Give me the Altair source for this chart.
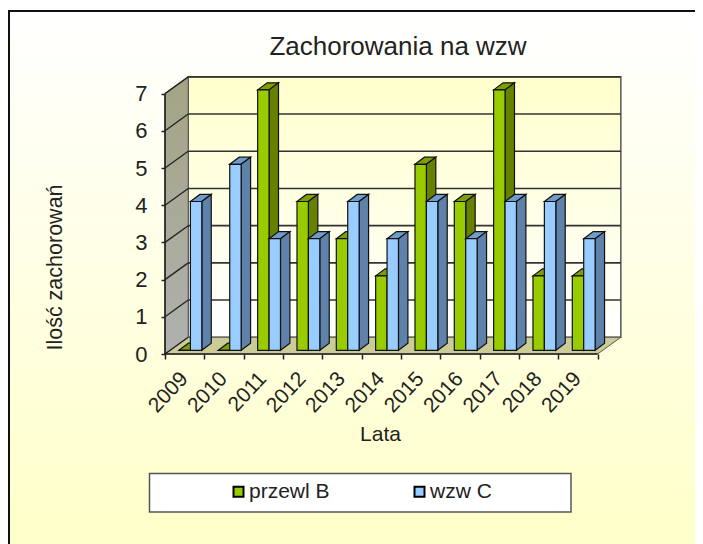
import altair as alt
import pandas as pd

years = ["2009","2010","2011","2012","2013","2014","2015","2016","2017","2018","2019"]
przewl_b = [0,0,7,4,3,2,5,4,7,2,2]
wzw_c = [4,5,3,3,4,3,4,3,4,4,3]
series_names = ["przewl B", "wzw C"]
series_colors = ["#99CC00", "#99CCFF"]

UX, UY = 39.33, 37.2
W, H = 456, 278
DX, DY = 0.59, 0.45          # wall depth, in axis units
BDX, BDY = 0.24, 0.19        # bar depth
BX, BY = 0.356, 0.10         # bar start inside the category / above the floor
BW = 0.29
N = len(years)
FONT = "Liberation Sans"

xs = alt.Scale(domain=[0, W/UX], nice=False, zero=False)
ys = alt.Scale(domain=[0, H/UY], nice=False, zero=False)

label_expr = "(" + str(years) + ")[datum.value] || ''"
axis_x = alt.Axis(values=list(range(N+1)), labelExpr=label_expr, labelAngle=-47, labelAlign="right",
                  labelBaseline="middle", labelOffset=19, labelPadding=16, labelFont=FONT, labelFontSize=21,
                  labelColor="#222222", tickColor="#222222", tickSize=5, tickWidth=1.5, domain=False, grid=False,
                  labelOverlap=False, labelBound=False, labelFlush=False, zindex=1, title="Lata",
                  titleFont=FONT, titleFontSize=21, titleFontWeight="normal", titleColor="#222222",
                  titleX=380-165, titleY=417-354+6)
axis_y = alt.Axis(values=list(range(8)), format="d", labelFont=FONT, labelFontSize=22, labelColor="#222222",
                  tickColor="#222222", tickSize=4, tickWidth=1.5, labelPadding=14, domain=False, grid=False,
                  zindex=1, title="Ilość zachorowań", titleFont=FONT, titleFontSize=21.5,
                  titleFontWeight="normal", titleColor="#222222", titleAngle=-90,
                  titleX=66-165, titleY=267-76)
XQ = alt.X("x:Q", scale=xs, axis=axis_x)
YQ = alt.Y("y:Q", scale=ys, axis=axis_y, stack=None)

bars, tops, sides = [], [], []
for s, vals in enumerate([przewl_b, wzw_c]):
    for i, v in enumerate(vals):
        x0 = i + BX + s*BW
        x1 = x0 + BW
        t = v + BY
        bars.append(dict(series=series_names[s], s=s, x=x0, x2=x1, y=t, y2=BY))
        k = f"{s}-{i}"
        for px, a, b in [(x0, t, t), (x0+BDX, t+BDY, t), (x1, t+BDY, t), (x1+BDX, t+BDY, t+BDY)]:
            tops.append(dict(id=k, s=s, x=px, y=a, y2=b))
        for px, a, b in [(x1, t, BY), (x1+BDX, t+BDY, BY+BDY)]:
            sides.append(dict(id=k, s=s, x=px, y=a, y2=b))
bars, tops, sides = pd.DataFrame(bars), pd.DataFrame(tops), pd.DataFrame(sides)

def grad(c0, c1):
    return alt.Gradient(gradient="linear", x1=0, x2=0, y1=0, y2=1,
                        stops=[alt.GradientStop(color=c0, offset=0), alt.GradientStop(color=c1, offset=1)])

one = pd.DataFrame({"a": [0]})
page = alt.Chart(one).mark_rect(
    fill=alt.Gradient(gradient="linear", x1=0, x2=0, y1=0, y2=1,
                      stops=[alt.GradientStop(color="#FFFFFF", offset=0),
                             alt.GradientStop(color="#FFFFCC", offset=0.92),
                             alt.GradientStop(color="#FFFFCC", offset=1)]),
    stroke="#111111", strokeWidth=2
).encode(x=alt.value(-156), x2=alt.value(560), y=alt.value(-65), y2=alt.value(480))

legend_box = alt.Chart(one).mark_rect(fill="white", stroke="#555555", strokeWidth=1.5).encode(
    x=alt.value(149.5-165), x2=alt.value(571-165), y=alt.value(473.5-76), y2=alt.value(512-76))

back = pd.DataFrame({"x": [DX, 11+DX], "y": [7+DY]*2, "y2": [DY]*2})
wall_back = alt.Chart(back).mark_area(fill=grad("#FFFFCC", "#FFFFFF"), stroke="#555555", strokeWidth=1.5).encode(
    x=XQ, y=YQ, y2="y2:Q")
left = pd.DataFrame({"x": [0, DX], "y": [7, 7+DY], "y2": [0, DY]})
wall_left = alt.Chart(left).mark_area(fill=grad("#A4A484", "#B0B0B0"), stroke="#555555", strokeWidth=1).encode(
    x=XQ, y=YQ, y2="y2:Q")
floor = pd.DataFrame({"x": [0, DX, 11, 11+DX], "y": [0, DY, DY, DY], "y2": [0, 0, 0, DY]})
wall_floor = alt.Chart(floor).mark_area(fill="#CCCC99", stroke="#555555", strokeWidth=1).encode(
    x=XQ, y=YQ, y2="y2:Q")

levels = list(range(1, 8))
grid_df = pd.DataFrame({"x": [DX]*7, "x2": [11+DX]*7, "y": [v+DY for v in levels]})
grid = alt.Chart(grid_df).mark_rule(color="#333333", strokeWidth=1.6).encode(
    x=XQ, x2="x2:Q", y=alt.Y("y:Q", scale=ys, axis=axis_y))
slant_df = pd.DataFrame([dict(id=v, x=a, y=b) for v in range(0, 8) for a, b in [(0, v), (DX, v+DY)]])
slant = alt.Chart(slant_df).mark_line(color="#222222", strokeWidth=1.3).encode(x=XQ, y=YQ, detail="id:N")

def faces(df, s, color):
    return alt.Chart(df[df.s == s]).mark_area(fill=color, stroke="#111111", strokeWidth=1.2).encode(
        x=XQ, y=YQ, y2="y2:Q", detail="id:N")

legend = alt.Legend(orient="none", legendX=228-165, legendY=481-76, direction="horizontal", columns=2, title=None,
                    symbolType="square", symbolSize=100, symbolStrokeColor="#000000", symbolStrokeWidth=2,
                    labelFont=FONT, labelFontSize=21, labelColor="#222222", columnPadding=79, labelOffset=0,
                    padding=0, zindex=1)

def bar_layer(s):
    return alt.Chart(bars[bars.s == s]).mark_bar(stroke="#111111", strokeWidth=1.2).encode(
        x=XQ, x2="x2:Q", y=alt.Y("y:Q", scale=ys, axis=axis_y), y2="y2:Q",
        color=alt.Color("series:N", scale=alt.Scale(domain=series_names, range=series_colors), legend=legend),
    )

x_line = alt.Chart(pd.DataFrame({"x": [0], "x2": [11], "y": [0]})).mark_rule(color="#222222", strokeWidth=1.6).encode(
    x=XQ, x2="x2:Q", y=alt.Y("y:Q", scale=ys, axis=axis_y))
y_line = alt.Chart(pd.DataFrame({"x": [0], "y": [0], "y2": [7]})).mark_rule(color="#222222", strokeWidth=1.6).encode(
    x=XQ, y=alt.Y("y:Q", scale=ys, axis=axis_y), y2="y2:Q")

chart = alt.layer(
    page, legend_box, wall_back, wall_left, wall_floor, grid, slant, x_line, y_line,
    faces(tops, 0, "#7F9F00"), faces(sides, 0, "#668000"), bar_layer(0),
    faces(tops, 1, "#6E9CCB"), faces(sides, 1, "#5F82AA"), bar_layer(1),
).properties(
    width=W, height=H,
    title=alt.TitleParams("Zachorowania na wzw", font=FONT, fontSize=26, fontWeight="normal", color="#222222",
                          anchor="middle", dx=5, dy=63, offset=13, frame="group"),
    autosize=alt.AutoSizeParams(type="none"),
    padding={"left": 157, "top": 68, "right": 687-157-W, "bottom": 536-68-H},
    background="white",
).configure_view(stroke=None)

chart.save("out.html", embed_options={"renderer": "svg", "actions": False})
